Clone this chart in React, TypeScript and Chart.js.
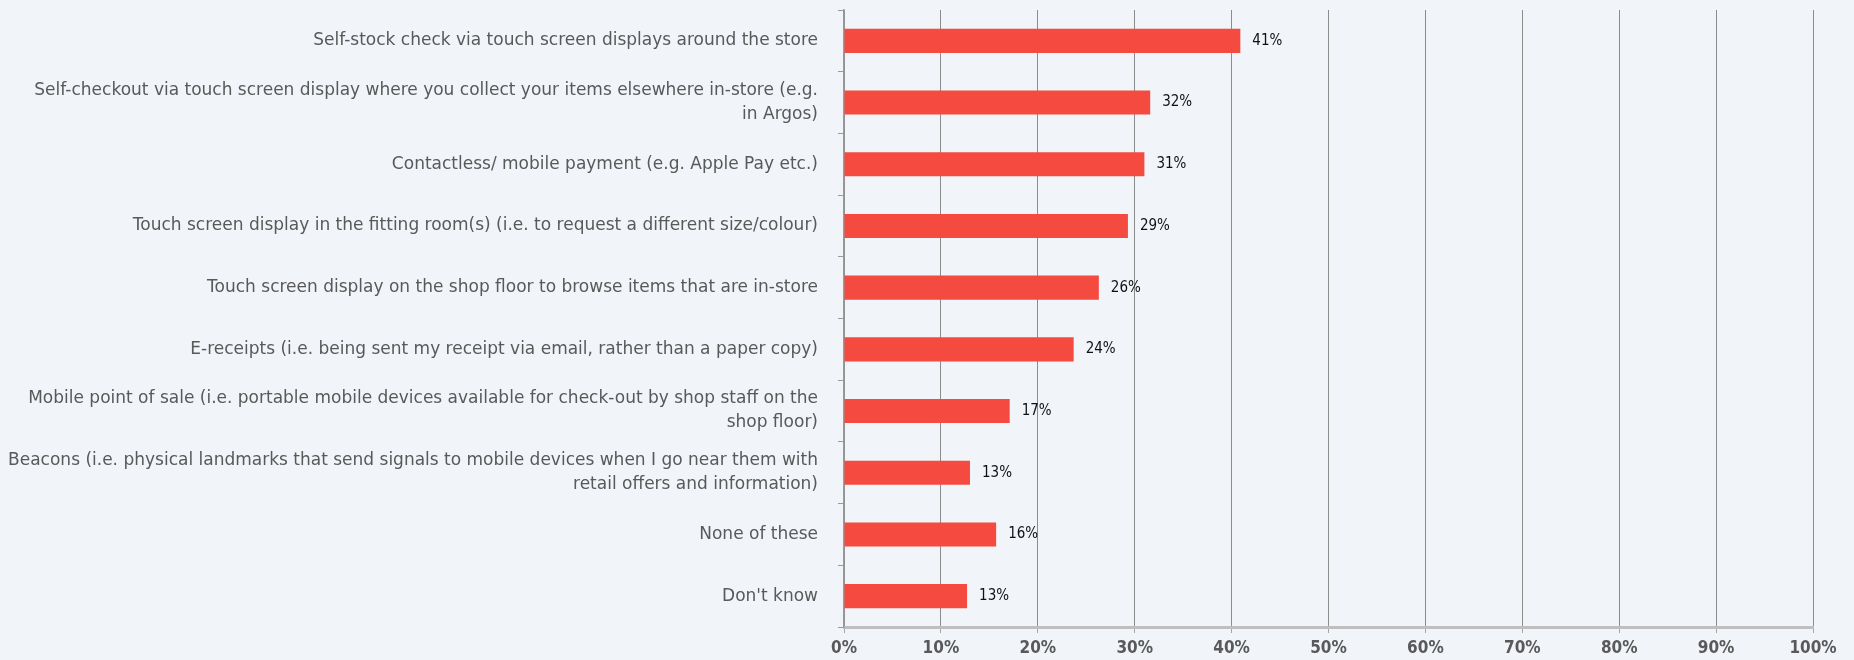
import React, { useEffect, useRef } from "react";
import { Chart, registerables } from "chart.js";

Chart.register(...registerables);

const categories: (string | string[])[] = [
  "Self-stock check via touch screen displays around the store",
  ["Self-checkout via touch screen display where you collect your items elsewhere in-store (e.g.", "in Argos)"],
  "Contactless/ mobile payment (e.g. Apple Pay etc.)",
  "Touch screen display in the fitting room(s) (i.e. to request a different size/colour)",
  "Touch screen display on the shop floor to browse items that are in-store",
  "E-receipts (i.e. being sent my receipt via email, rather than a paper copy)",
  ["Mobile point of sale (i.e. portable mobile devices available for check-out by shop staff on the", "shop floor)"],
  ["Beacons (i.e. physical landmarks that send signals to mobile devices when I go near them with", "retail offers and information)"],
  "None of these",
  "Don't know",
];

const values: number[] = [40.9, 31.6, 31.0, 29.3, 26.3, 23.7, 17.1, 13.0, 15.7, 12.7];
const valueLabels: string[] = ["41%", "32%", "31%", "29%", "26%", "24%", "17%", "13%", "16%", "13%"];
const xTicks: number[] = [0, 10, 20, 30, 40, 50, 60, 70, 80, 90, 100];

const BG = "#F1F4F9";
const BAR = "#F44A40";
const FONT_C = "'DejaVu Sans Condensed', 'DejaVu Sans', sans-serif";
const FONT = "'DejaVu Sans', sans-serif";

const bgPlugin = {
  id: "bg",
  beforeDraw(chart: any) {
    const { ctx, width, height } = chart;
    ctx.save();
    ctx.fillStyle = BG;
    ctx.fillRect(0, 0, width, height);
    ctx.restore();
  },
};

const valueLabelPlugin = {
  id: "valueLabels",
  afterDatasetsDraw(chart: any) {
    const { ctx } = chart;
    const meta = chart.getDatasetMeta(0);
    ctx.save();
    ctx.font = `15px ${FONT_C}`;
    ctx.fillStyle = "#111111";
    ctx.textAlign = "left";
    ctx.textBaseline = "middle";
    meta.data.forEach((bar: any, i: number) => {
      ctx.fillText(valueLabels[i], bar.x + 12, bar.y);
    });
    ctx.restore();
  },
};

export default function App() {
  const ref = useRef<HTMLCanvasElement | null>(null);

  useEffect(() => {
    document.body.style.margin = "0";
    document.body.style.background = BG;
    const chart = new Chart(ref.current as HTMLCanvasElement, {
      type: "bar",
      data: {
        labels: categories as any,
        datasets: [
          {
            data: values,
            backgroundColor: BAR,
            borderWidth: 0,
            categoryPercentage: 1,
            barPercentage: 0.39,
          },
        ],
      },
      options: {
        indexAxis: "y",
        animation: false,
        responsive: true,
        maintainAspectRatio: false,
        layout: { padding: { top: 10, right: 41, bottom: 0, left: 0 } },
        plugins: {
          legend: { display: false },
          tooltip: { enabled: false },
        },
        scales: {
          x: {
            min: 0,
            max: 100,
            afterBuildTicks: (s: any) => {
              s.ticks = xTicks.map((v) => ({ value: v }));
            },
            afterFit: (s: any) => {
              s.height = 33;
              s.paddingLeft = 0;
              s.paddingRight = 0;
            },
            ticks: {
              callback: (v: any) => `${v}%`,
              color: "#595959",
              font: { family: FONT_C, size: 17, weight: "bold" },
              padding: 5,
              maxRotation: 0,
            },
            grid: {
              color: "#8C8C8C",
              lineWidth: 1,
              tickLength: 6,
              tickColor: "#A6A6A6",
            },
            border: { color: "#BFBFBF", width: 3 },
          },
          y: {
            afterFit: (s: any) => {
              s.width = 844;
              s.paddingTop = 0;
              s.paddingBottom = 0;
            },
            ticks: {
              color: "#595959",
              font: { family: FONT, size: 17, lineHeight: 1.41 },
              padding: 20,
              crossAlign: "near",
            },
            grid: {
              offset: true,
              drawOnChartArea: false,
              tickLength: 6,
              tickColor: "#999999",
            },
            border: { color: "#999999", width: 1.5 },
          },
        },
      },
      plugins: [bgPlugin, valueLabelPlugin],
    });
    return () => chart.destroy();
  }, []);

  return (
    <div style={{ position: "fixed", left: 0, top: 0, width: 1854, height: 660, background: BG }}>
      <canvas ref={ref} />
    </div>
  );
}
